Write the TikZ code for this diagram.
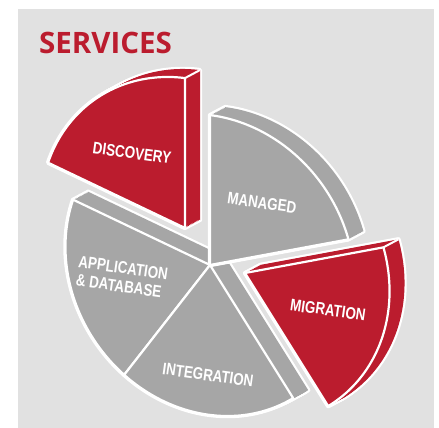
\documentclass[tikz,border=0pt]{standalone}
\usepackage{fontspec}
\newfontfamily\titlefont{Open Sans}
\newfontfamily\labfont{Liberation Sans Bold}[FakeStretch=0.8]
\definecolor{svred}{RGB}{187,28,46}
\definecolor{svgrey}{RGB}{166,166,166}
\definecolor{svbg}{RGB}{225,225,225}
\tikzset{
  pieslice/.style n args={4}{insert path={(#1,#2) -- plot[domain=#3:#4,samples=60,variable=\u] ({#1+rr(\u)*cos(\u)},{#2+rr(\u)*sin(\u)}) -- cycle}},
  facestyle/.style={draw=white, line width=2.2pt, line join=round},
  lab/.style={text=white, inner sep=0pt, font=\labfont\fontsize{16.8}{18.5}\selectfont},
}
% hull (side faces) of a slice: white outline then fill
\newcommand\slicehull[5]{%
  \foreach \k in {0,...,12}{\draw[white, line width=4.4pt, line join=round, shift={(\k*15/12,-\k*8/12)}, pieslice={#1}{#2}{#3}{#4}];}
  \foreach \k in {0,...,12}{\fill[#5, shift={(\k*15/12,-\k*8/12)}, pieslice={#1}{#2}{#3}{#4}];}
}
\begin{document}
\begin{tikzpicture}[x=1pt,y=-1pt,
  declare function={rr(\t)=100/sqrt((cos(\t-55))^2/2.4649+(sin(\t-55))^2/1.9044);}]
\useasboundingbox (0,0) rectangle (439,428);
\fill[white] (0,0) rectangle (439,428);
\fill[svbg] (18,9) rectangle (434,428);
\node[anchor=base west, inner sep=0pt, text=svred, font=\titlefont\bfseries\fontsize{29.5}{30}\selectfont] (title) at (39,54) {SERVICES};
% side faces
\slicehull{210}{265}{128}{205.5}{svgrey}
\slicehull{210}{265}{58}{128}{svgrey}
\slicehull{210}{265}{270}{349.5}{svgrey}
\slicehull{245}{273}{349.5}{418}{svred}
\slicehull{185}{228}{205.5}{270}{svred}
% visible corner edges
\draw[white, line width=2pt] (185,228) ++(270:{rr(270)}) coordinate (dc) -- ++(15,-8) coordinate (dc2);
\draw[white, line width=2pt] (245,273) ++(349.5:{rr(349.5)}) coordinate (mc) -- ++(15,-8) coordinate (mc2);
% top faces
\path[facestyle, fill=svgrey, pieslice={210}{265}{128}{205.5}];
\path[facestyle, fill=svgrey, pieslice={210}{265}{58}{128}];
\path[facestyle, fill=svgrey, pieslice={210}{265}{270}{349.5}];
\path[facestyle, fill=svred, pieslice={245}{273}{349.5}{418}];
\path[facestyle, fill=svred, pieslice={185}{228}{205.5}{270}];
% labels
\node[lab, rotate=-8] (disc) at (132,153) {DISCOVERY};
\node[lab, rotate=-8] (man) at (262,203) {MANAGED};
\node[lab, rotate=-8, align=left] (app) at (122,277) {APPLICATION\\\& DATABASE};
\node[lab, rotate=-8] (mig) at (328,310) {MIGRATION};
\node[lab, rotate=-8] (integ) at (208,375) {INTEGRATION};
\end{tikzpicture}
\end{document}
